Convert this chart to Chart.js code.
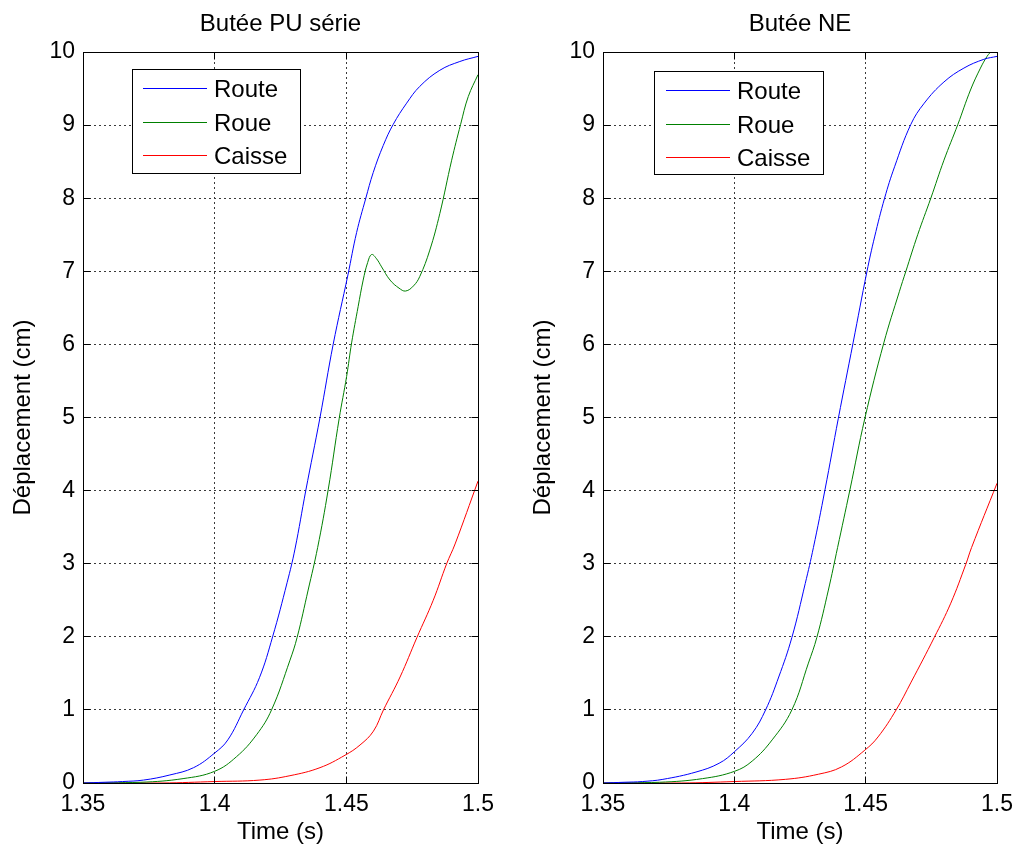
<!DOCTYPE html>
<html><head><meta charset="utf-8">
<script src="https://cdn.jsdelivr.net/npm/chart.js@4.4.1/dist/chart.umd.min.js"></script>
<style>
html,body{margin:0;padding:0;background:#fff;}
#wrap{position:relative;width:1021px;height:848px;overflow:hidden;background:#fff;}
canvas{position:absolute;top:0;}
</style></head><body>
<div id="wrap">
<canvas id="c1" width="520" height="848" style="left:0px"></canvas>
<canvas id="c2" width="501" height="848" style="left:520px"></canvas>
</div>
<script>
// ---------- DATA ----------
const seriesNames = ['Route', 'Roue', 'Caisse'];
const chartTitles = ['Butée PU série', 'Butée NE'];
const xAxisTitle = 'Time (s)';
const yAxisTitle = 'Déplacement (cm)';
const xTickValues = [1.35, 1.4, 1.45, 1.5];
const xTickLabels = ['1.35', '1.4', '1.45', '1.5'];
const yTickValues = [0, 1, 2, 3, 4, 5, 6, 7, 8, 9, 10];
const yTickLabels = ['0', '1', '2', '3', '4', '5', '6', '7', '8', '9', '10'];

// Butée PU série
const puRouteT = [1.35, 1.358, 1.365, 1.373, 1.383, 1.392, 1.400, 1.405, 1.411, 1.417, 1.422, 1.4275, 1.4305, 1.4346, 1.440, 1.445, 1.4506, 1.4539, 1.4574, 1.4602, 1.464, 1.4678, 1.4729, 1.4779, 1.4855, 1.4931, 1.5];
const puRouteV = [0.0, 0.01, 0.02, 0.04, 0.11, 0.21, 0.41, 0.59, 1.0, 1.44, 2.0, 2.74, 3.2, 4.0, 5.0, 6.0, 6.95, 7.53, 8.0, 8.35, 8.72, 9.01, 9.30, 9.53, 9.75, 9.87, 9.94];
const puRoueT = [1.35, 1.372, 1.388, 1.400, 1.4083, 1.4159, 1.4216, 1.4286, 1.4313, 1.4355, 1.4391, 1.4431, 1.4473, 1.4501, 1.452, 1.4545, 1.4564, 1.4581, 1.4596, 1.4615, 1.4634, 1.4666, 1.4700, 1.4725, 1.4755, 1.4779, 1.4817, 1.4855, 1.4900, 1.4934, 1.4963, 1.5];
const puRoueV = [0.0, 0.01, 0.06, 0.16, 0.36, 0.66, 1.0, 1.68, 1.99, 2.64, 3.22, 4.01, 4.99, 5.56, 6.02, 6.52, 6.88, 7.12, 7.23, 7.17, 7.06, 6.88, 6.77, 6.73, 6.80, 6.93, 7.29, 7.79, 8.52, 9.01, 9.39, 9.69];
const puCaisseT = [1.35, 1.38, 1.40, 1.4172, 1.4286, 1.44, 1.4495, 1.4552, 1.4603, 1.4641, 1.4704, 1.4768, 1.483, 1.4881, 1.4913, 1.5];
const puCaisseV = [0.0, 0.0, 0.02, 0.04, 0.10, 0.21, 0.38, 0.52, 0.71, 1.0, 1.45, 1.99, 2.5, 3.0, 3.27, 4.13];

// Butée NE
const neRouteT = [1.35, 1.358, 1.365, 1.3728, 1.3854, 1.3942, 1.4001, 1.4068, 1.4119, 1.4169, 1.4219, 1.427, 1.4301, 1.4345, 1.4396, 1.4452, 1.4505, 1.4534, 1.4572, 1.461, 1.4672, 1.4723, 1.4798, 1.4874, 1.495, 1.5];
const neRouteV = [0.0, 0.01, 0.02, 0.05, 0.15, 0.27, 0.43, 0.68, 1.0, 1.45, 1.99, 2.73, 3.22, 4.01, 4.99, 6.02, 7.0, 7.47, 8.0, 8.43, 9.01, 9.30, 9.59, 9.78, 9.90, 9.94];
const neRoueT = [1.35, 1.3715, 1.3879, 1.4001, 1.4068, 1.4144, 1.4219, 1.4282, 1.4314, 1.4358, 1.4393, 1.444, 1.4497, 1.4569, 1.4628, 1.4653, 1.4698, 1.4748, 1.4798, 1.4851, 1.4899, 1.4937, 1.4962, 1.4981, 1.5];
const neRoueV = [0.0, 0.01, 0.06, 0.16, 0.30, 0.59, 1.0, 1.64, 1.99, 2.64, 3.22, 4.01, 4.99, 6.02, 6.72, 7.0, 7.5, 8.0, 8.52, 9.01, 9.48, 9.78, 9.94, 10.03, 10.2];
const neCaisseT = [1.35, 1.38, 1.40, 1.4194, 1.432, 1.4408, 1.4497, 1.4547, 1.4616, 1.4673, 1.4761, 1.4824, 1.4881, 1.4903, 1.5];
const neCaisseV = [0.0, 0.0, 0.02, 0.05, 0.12, 0.22, 0.45, 0.63, 1.0, 1.38, 1.99, 2.46, 2.99, 3.22, 4.1];

// ---------- STYLE ----------
const FONT = "'Liberation Sans', Arial, Helvetica, sans-serif";
const seriesColors = ['#0000ff', '#008000', '#ff0000'];

function pts(t, v) { return t.map((tt, i) => ({ x: tt, y: v[i] })); }

function alignPx(p) { return Math.round(p - 0.5) + 0.5; }

const matlabPlugin = {
  id: 'matlabAxes',
  afterDraw(chart, args, opts) {
    const { ctx, chartArea: a, scales } = chart;
    const L = alignPx(a.left), R = alignPx(a.right), T = alignPx(a.top), B = alignPx(a.bottom);
    ctx.save();
    ctx.setLineDash([]);
    ctx.strokeStyle = '#000';
    ctx.lineWidth = 1;
    const tl = 7;
    ctx.beginPath();
    scales.x.ticks.forEach(tk => {
      const px = alignPx(scales.x.getPixelForValue(tk.value));
      ctx.moveTo(px, B); ctx.lineTo(px, B - tl);
      ctx.moveTo(px, T); ctx.lineTo(px, T + tl);
    });
    scales.y.ticks.forEach(tk => {
      const py = alignPx(scales.y.getPixelForValue(tk.value));
      ctx.moveTo(L, py); ctx.lineTo(L + tl, py);
      ctx.moveTo(R, py); ctx.lineTo(R - tl, py);
    });
    ctx.stroke();
    ctx.strokeRect(L, T, R - L, B - T);
    const lg = opts.legend;
    if (lg) {
      const bx = alignPx(a.left + lg.x), by = alignPx(a.top + lg.y);
      ctx.fillStyle = '#fff';
      ctx.fillRect(bx, by, lg.w, lg.h);
      ctx.strokeStyle = '#000';
      ctx.strokeRect(bx, by, lg.w, lg.h);
      ctx.font = '24px ' + FONT;
      ctx.textBaseline = 'alphabetic';
      ctx.textAlign = 'left';
      chart.data.datasets.forEach((ds, i) => {
        const base = a.top + lg.base0 + i * lg.gap;
        const ly = alignPx(base - 8.5);
        ctx.strokeStyle = ds.borderColor;
        ctx.beginPath();
        ctx.moveTo(a.left + lg.l1, ly); ctx.lineTo(a.left + lg.l2, ly);
        ctx.stroke();
        ctx.fillStyle = '#000';
        ctx.fillText(ds.label, a.left + lg.tx, base);
      });
    }
    ctx.restore();
  }
};

function makeChart(id, title, series, legendOpts, padRight) {
  return new Chart(document.getElementById(id), {
    type: 'line',
    data: {
      datasets: series.map((s, i) => ({
        label: seriesNames[i],
        data: pts(s[0], s[1]),
        borderColor: seriesColors[i],
        backgroundColor: seriesColors[i],
        borderWidth: 1,
        pointRadius: 0,
        fill: false,
        tension: 0.4
      }))
    },
    plugins: [matlabPlugin],
    options: {
      responsive: false,
      animation: false,
      devicePixelRatio: 1,
      events: [],
      layout: { padding: { left: 0, right: padRight, top: 0, bottom: 0 } },
      plugins: {
        legend: { display: false },
        tooltip: { enabled: false },
        title: {
          display: true, text: title, fullSize: false, color: '#000',
          font: { family: FONT, size: 24, weight: 'normal', lineHeight: 1.2 },
          padding: { top: 10, bottom: 13.2 }
        },
        matlabAxes: { legend: legendOpts }
      },
      scales: {
        x: {
          type: 'linear', min: 1.35, max: 1.5,
          afterBuildTicks: s => { s.ticks = xTickValues.map(v => ({ value: v })); },
          afterFit: s => { s.height = 65; },
          ticks: {
            autoSkip: false, maxRotation: 0, minRotation: 0, padding: 8, color: '#000',
            font: { family: FONT, size: 23 },
            callback: v => { const k = xTickValues.findIndex(t => Math.abs(t - v) < 1e-9); return k >= 0 ? xTickLabels[k] : ''; }
          },
          grid: { drawTicks: false, color: '#3a3a3a', lineWidth: 1 },
          border: { display: true, color: '#000', width: 1, dash: [2, 3] },
          title: { display: true, text: xAxisTitle, color: '#000', font: { family: FONT, size: 24, lineHeight: 1.2 }, padding: { top: 0, bottom: 1 } }
        },
        y: {
          type: 'linear', min: 0, max: 10,
          afterBuildTicks: s => { s.ticks = yTickValues.map(v => ({ value: v })); },
          afterFit: s => { s.width = 83; },
          ticks: {
            autoSkip: false, padding: 8, color: '#000',
            font: { family: FONT, size: 23 },
            callback: v => { const k = yTickValues.indexOf(v); return k >= 0 ? yTickLabels[k] : ''; }
          },
          grid: { drawTicks: false, color: '#3a3a3a', lineWidth: 1 },
          border: { display: true, color: '#000', width: 1, dash: [2, 3] },
          title: { display: true, text: yAxisTitle, color: '#000', font: { family: FONT, size: 24, lineHeight: 1.2 }, padding: { top: 9, bottom: 0 } }
        }
      }
    }
  });
}

makeChart('c1', chartTitles[0],
  [[puRouteT, puRouteV], [puRoueT, puRoueV], [puCaisseT, puCaisseV]],
  { x: 49, y: 17, w: 168, h: 104, l1: 60, l2: 124, tx: 131, base0: 45, gap: 33.5 }, 42);
makeChart('c2', chartTitles[1],
  [[neRouteT, neRouteV], [neRoueT, neRoueV], [neCaisseT, neCaisseV]],
  { x: 51, y: 19, w: 169, h: 103, l1: 63, l2: 127, tx: 134, base0: 47, gap: 33.5 }, 21);
</script>
</body></html>
